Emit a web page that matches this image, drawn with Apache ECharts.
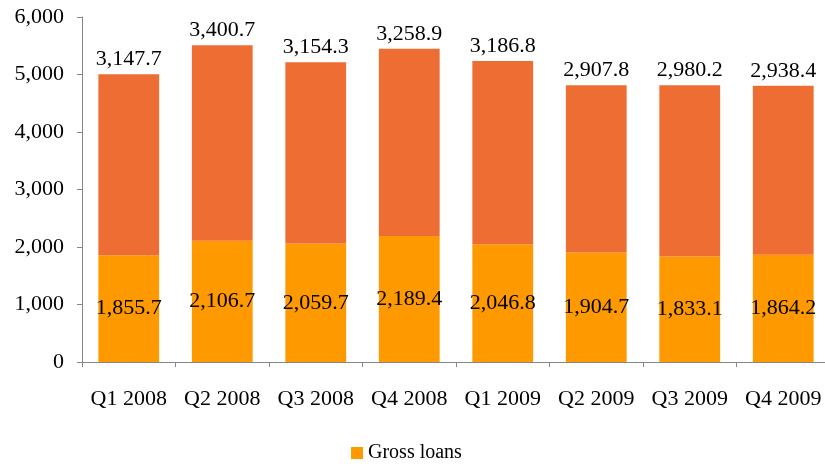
<!DOCTYPE html>
<html>
<head>
<meta charset="utf-8">
<title>Gross loans</title>
<script src="https://cdn.jsdelivr.net/npm/echarts@6/dist/echarts.min.js"></script>
<style>
html,body{margin:0;padding:0;background:#fff;}
#chart{width:825px;height:469px;}
</style>
</head>
<body>
<div id="chart"></div>
<script>
var categories = ['Q1 2008', 'Q2 2008', 'Q3 2008', 'Q4 2008', 'Q1 2009', 'Q2 2009', 'Q3 2009', 'Q4 2009'];
var grossLoans = [1855.7, 2106.7, 2059.7, 2189.4, 2046.8, 1904.7, 1833.1, 1864.2];
var otherPart = [3147.7, 3400.7, 3154.3, 3258.9, 3186.8, 2907.8, 2980.2, 2938.4];
var yTicks = [0, 1000, 2000, 3000, 4000, 5000, 6000];

var font = 'Liberation Serif';

function fmt(v) {
  var s = v.toFixed(1).split('.');
  return s[0].replace(/\B(?=(\d{3})+(?!\d))/g, ',') + '.' + s[1];
}

var myChart = echarts.init(document.getElementById('chart'));
var option = {
  animation: false,
  grid: {left: 82, right: -5, top: 17, bottom: 107, outerBoundsMode: 'none'},
  legend: {
    data: ['Gross loans'],
    bottom: 1,
    left: 346,
    itemWidth: 12,
    itemHeight: 12,
    itemGap: 6,
    icon: 'rect',
    textStyle: {fontFamily: font, fontSize: 20, color: '#000'}
  },
  xAxis: {
    type: 'category',
    data: categories,
    axisLine: {lineStyle: {color: '#868686', width: 1}},
    axisTick: {show: true, length: 5, interval: 0, lineStyle: {color: '#868686'}},
    axisLabel: {fontFamily: font, fontSize: 22, color: '#000', margin: 26, interval: 0}
  },
  yAxis: {
    type: 'value',
    min: yTicks[0],
    max: yTicks[yTicks.length - 1],
    interval: 1000,
    splitLine: {show: false},
    axisLine: {show: true, lineStyle: {color: '#868686', width: 1}},
    axisTick: {show: true, length: 5, lineStyle: {color: '#868686'}},
    axisLabel: {
      fontFamily: font, fontSize: 22, color: '#000', margin: 18,
      formatter: function (v) { return v.toString().replace(/\B(?=(\d{3})+(?!\d))/g, ','); }
    }
  },
  series: [
    {
      name: 'Gross loans',
      type: 'bar',
      stack: 'total',
      data: grossLoans,
      barCategoryGap: '35%',
      itemStyle: {color: '#FF9900'},
      label: {
        show: true, position: 'inside',
        fontFamily: font, fontSize: 22, color: '#000',
        formatter: function (p) { return fmt(p.value); }
      }
    },
    {
      name: 'Other',
      type: 'bar',
      stack: 'total',
      data: otherPart,
      barCategoryGap: '35%',
      itemStyle: {color: '#ED6D33'},
      label: {
        show: true, position: 'top', distance: 4,
        fontFamily: font, fontSize: 22, color: '#000',
        formatter: function (p) { return fmt(p.value); }
      }
    }
  ]
};
myChart.setOption(option);
</script>
</body>
</html>
